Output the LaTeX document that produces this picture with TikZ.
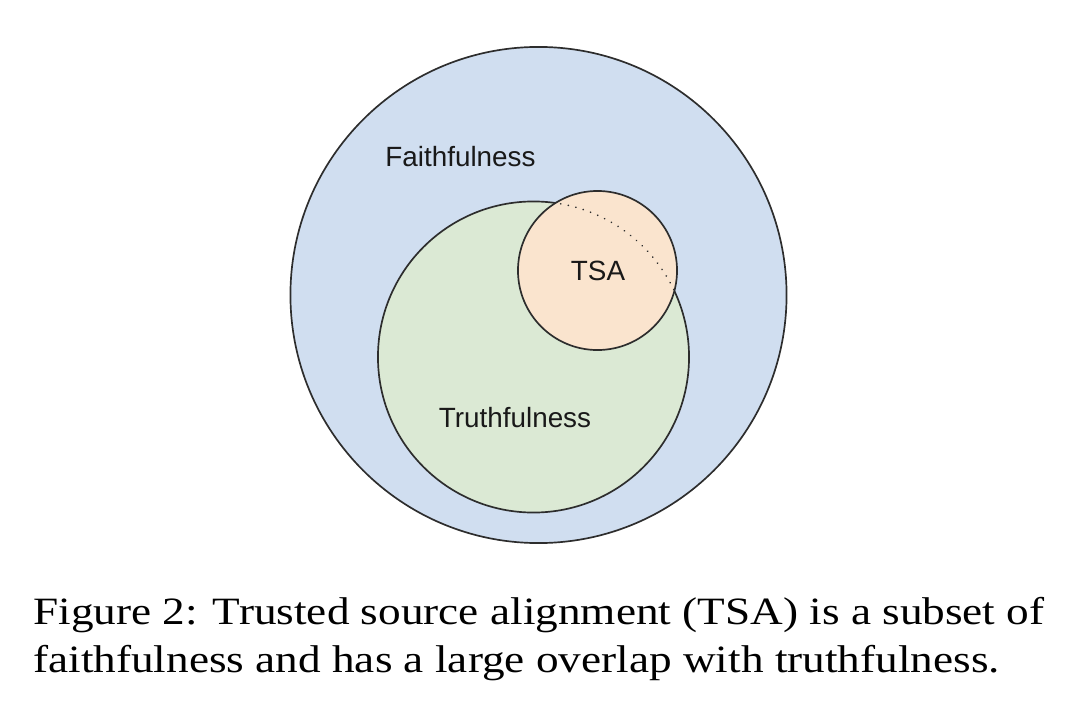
\documentclass[tikz,border=0pt]{standalone}
\usepackage{fontspec}
\setmainfont{Liberation Serif}
\newfontfamily\labelfont{Liberation Sans}
\newfontfamily\captionfont[FakeStretch=1.17]{Liberation Serif}
\usetikzlibrary{positioning}
\definecolor{tsaLightBlue}{RGB}{208, 222, 240}
\definecolor{tsaLightGreen}{RGB}{219, 233, 212}
\definecolor{tsaLightOrange}{RGB}{250, 228, 206}
\definecolor{tsaDarkGray}{RGB}{45, 45, 45}

\begin{document}
\begin{tikzpicture}[
  x=0.025cm,y=-0.025cm,
  setcircle/.style={circle,draw=tsaDarkGray,line width=1.2pt,inner sep=0pt,outer sep=0pt},
  setlabel/.style={font=\labelfont\fontsize{19.8}{22}\selectfont,text=black!90},
  captionline/.style={anchor=base west,inner sep=0pt,font=\captionfont\fontsize{27.5}{34}\selectfont}
]
  \useasboundingbox (0,0) rectangle (1080,723);
  \node[setcircle,fill=tsaLightBlue,minimum size=12.4cm] (faith) at (538.5,295) {};
  \node[setcircle,fill=tsaLightGreen,minimum size=7.775cm] (truth) at (533.5,357) {};
  \node[setcircle,fill=tsaLightOrange,minimum size=3.975cm] (tsa) at (597.5,270.5) {};
  % hidden part of the truthfulness border
  \begin{scope}
    \clip (tsa.center) circle (1.9875cm);
    \draw[tsaDarkGray,line width=1.3pt,line cap=round,dash pattern=on 0.01pt off 5.5pt] (truth.center) circle (3.8875cm);
  \end{scope}
  \node[setlabel] (faithlabel) at (460.5,157) {Faithfulness};
  \node[setlabel] (truthlabel) at (515,418) {Truthfulness};
  \node[setlabel] (tsalabel) at (598,271) {TSA};
  \node[captionline] (caption1) at (33,624) {Figure 2: Trusted source alignment (TSA) is a subset of};
  \node[captionline] (caption2) at (33,672) {faithfulness and has a large overlap with truthfulness.};
\end{tikzpicture}
\end{document}
